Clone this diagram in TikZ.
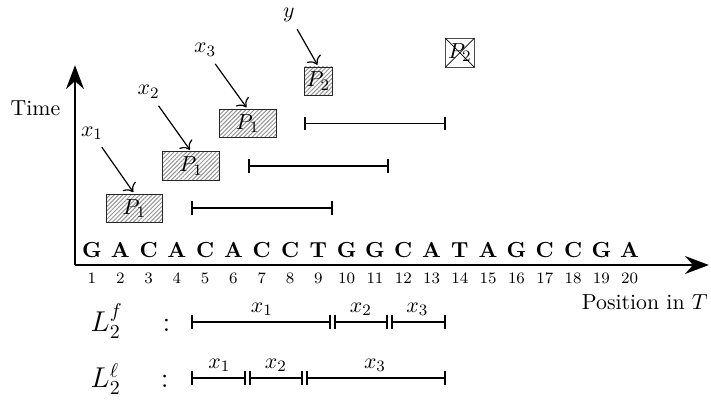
\documentclass[tikz,border=0pt,11pt]{standalone}
\usepackage{amsmath,amssymb}
\usepackage{tikz}
\usetikzlibrary{arrows.meta,patterns.meta}

\begin{document}
\begin{tikzpicture}[
    axis/.style={line width=1pt, -{Stealth[length=12pt,width=9pt,inset=4pt]}},
    occ/.style={draw=black!85, thin, minimum width=1cm, minimum height=0.5cm, inner sep=0pt,
        pattern={Lines[angle=45,distance=1.5pt,line width=0.5pt]}, pattern color=gray!85},
    occsq/.style={occ, minimum width=0.5cm},
    ptr/.style={semithick, -{To[scale=1.3]}, shorten >=1pt},
    span/.style={line width=1pt, {Bar[width=7pt]}-{Bar[width=7pt]}},
  ]
    \useasboundingbox (-1.125,-2.42) rectangle (11.437,4.682);
    % axes
    \coordinate (O) at (0.2,0);
    \coordinate (Ty) at (0.2,3.53);
    \coordinate (Tx) at (11.4,0);
    \draw[axis] (O) -- (Ty);
    \draw[axis] (O) -- (Tx);
    \node (time) at (-0.5,2.77) {Time};
    \node[anchor=east, inner sep=1pt] (pos) at (11.42,-0.65) {Position in $T$};

    % the text T and its positions
    \foreach \c [count=\i] in {G,A,C,A,C,A,C,C,T,G,G,C,A,T,A,G,C,C,G,A} {
        \node[anchor=base, font=\bfseries] (c\i) at (0.5*\i, 0.14) {\c};
        \node[anchor=base, font=\scriptsize] (n\i) at (0.5*\i, -0.33) {\i};
    }

    % occurrences
    \node[occ] (o1) at (1.25,1) {$P_1$};
    \node[occ] (o2) at (2.25,1.75) {$P_1$};
    \node[occ] (o3) at (3.25,2.5) {$P_1$};
    \node[occsq] (o4) at (4.5,3.25) {$P_2$};
    \node[draw=black!70, thin, minimum size=0.5cm, inner sep=0pt] (o5) at (7,3.75) {$P_2$};
        \draw[thin] (o5.north west) -- (o5.south east) (o5.north east) -- (o5.south west);

    \node (x1) at (0.5,2.33) {$x_1$};
    \node (x2) at (1.5,3.06) {$x_2$};
    \node (x3) at (2.5,3.8) {$x_3$};
    \node (y) at (3.98,4.42) {$y$};
    \draw[ptr] (x1) -- (o1.north);
    \draw[ptr] (x2) -- (o2.north);
    \draw[ptr] (x3) -- (o3.north);
    \draw[ptr] (y) -- (o4.north);

    % intervals
    \foreach \i/\s/\e/\y in {1/2.25/4.75/1, 2/3.25/5.75/1.75, 3/4.25/6.75/2.5} {
        \coordinate (a\i) at (\s,\y);
        \coordinate (b\i) at (\e,\y);
        \draw[span] (a\i) -- (b\i);
    }

    % L_2^f
    \node[anchor=base west, font=\Large, inner sep=0pt] (Lf) at (0.47,-1.17) {$L_2^f$\hspace{1.4em}:};
    \coordinate (f0) at (2.25,-1);
    \coordinate (f1) at (4.75,-1);
    \coordinate (f2) at (5.75,-1);
    \coordinate (f3) at (6.75,-1);
    \draw[span, shorten >=0.025cm] (f0) -- node[above=-1pt] {$x_1$} (f1);
    \draw[span, shorten <=0.025cm, shorten >=0.025cm] (f1) -- node[above=-1pt] {$x_2$} (f2);
    \draw[span, shorten <=0.025cm] (f2) -- node[above=-1pt] {$x_3$} (f3);

    % L_2^l
    \node[anchor=base west, font=\Large, inner sep=0pt] (Ll) at (0.47,-2.17) {$L_2^\ell$\hspace{1.4em}:};
    \coordinate (l0) at (2.25,-2);
    \coordinate (l1) at (3.25,-2);
    \coordinate (l2) at (4.25,-2);
    \coordinate (l3) at (6.75,-2);
    \draw[span, shorten >=0.025cm] (l0) -- node[above=-1pt] {$x_1$} (l1);
    \draw[span, shorten <=0.025cm, shorten >=0.025cm] (l1) -- node[above=-1pt] {$x_2$} (l2);
    \draw[span, shorten <=0.025cm] (l2) -- node[above=-1pt] {$x_3$} (l3);
\end{tikzpicture}
\end{document}
